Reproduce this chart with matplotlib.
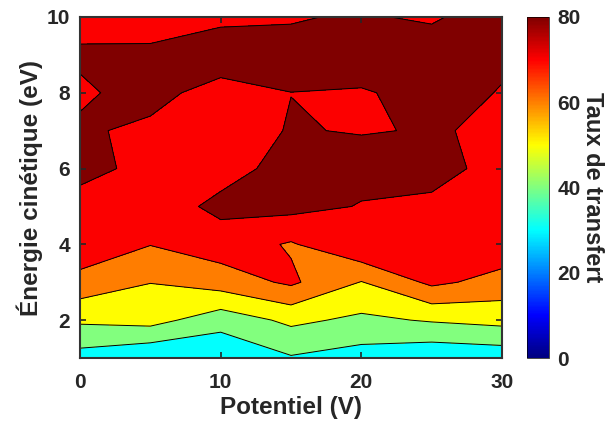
import numpy as np
import matplotlib
matplotlib.use("Agg")
import matplotlib.pyplot as plt
from matplotlib.colors import LinearSegmentedColormap, Normalize
from matplotlib.cm import ScalarMappable

potentiel = [0, 5, 10, 15, 20, 25, 30]
energie = [1, 2, 3, 4, 5, 6, 7, 8, 9, 10]

# taux de transfert, one row per energy (1 -> 10 eV), one column per potential
taux = [
    [35.9, 30.9, 31.0, 39.1, 35.6, 32.1, 33.5],
    [51.7, 53.6, 44.2, 52.2, 47.9, 50.9, 53.1],
    [66.5, 60.2, 64.7, 71.7, 59.6, 72.1, 66.4],
    [77.0, 70.3, 75.3, 69.0, 79.2, 76.0, 76.4],
    [78.5, 74.6, 82.5, 83.1, 79.5, 78.5, 77.0],
    [81.2, 78.9, 76.2, 83.6, 83.0, 82.5, 77.5],
    [82.0, 77.0, 77.0, 80.4, 79.6, 80.4, 79.2],
    [78.0, 84.8, 74.0, 79.95, 79.5, 81.8, 79.75],
    [82.0, 81.5, 89.0, 83.0, 83.3, 86.0, 80.8],
    [75.0, 76.5, 76.7, 79.3, 81.0, 78.6, 85.9],
]

niveaux = [30, 40, 50, 60, 70, 80, 100]
cbar_ticks = [0, 20, 40, 60, 80]

# matlab style jet
jet = LinearSegmentedColormap.from_list("mjet", [
    (0.0, (0, 0, 0.5)), (1/8, (0, 0, 1)), (3/8, (0, 1, 1)),
    (5/8, (1, 1, 0)), (7/8, (1, 0, 0)), (1.0, (0.5, 0, 0))])
norm = Normalize(0, 80)

plt.rcParams['font.family'] = ['Liberation Sans', 'DejaVu Sans']
plt.rcParams['font.weight'] = 'bold'
txt = '#262626'

fig = plt.figure(figsize=(6.13, 4.30), dpi=100)
ax = fig.add_axes([0.1305, 0.1674, 0.6885, 0.7931])

X, Y = np.meshgrid(potentiel, energie)
Z = np.array(taux)
fills = [jet(norm(min(l, 80))) for l in niveaux[:-1]]
ax.contourf(X, Y, Z, levels=niveaux, colors=fills)
ax.contour(X, Y, Z, levels=niveaux[:-1], colors='k', linewidths=0.7)

ax.set_xlim(0, 30)
ax.set_ylim(1, 10)
ax.set_xticks([0, 10, 20, 30])
ax.set_yticks([2, 4, 6, 8, 10])
ax.tick_params(direction='in', length=4, width=1.2, top=True, right=True,
               labelsize=15, colors=txt)
ax.tick_params(axis='x', pad=11)
ax.tick_params(axis='y', pad=7)
for s in ax.spines.values():
    s.set_linewidth(1.5)
    s.set_color('#333333')
ax.set_xlabel('Potentiel (V)', fontsize=17.5, fontweight='bold', color=txt, labelpad=3)
ax.set_ylabel('Énergie cinétique (eV)', fontsize=17.5, fontweight='bold', color=txt, labelpad=3)

cax = fig.add_axes([0.859, 0.1674, 0.0369, 0.7931])
cb = fig.colorbar(ScalarMappable(norm=norm, cmap=jet), cax=cax, ticks=cbar_ticks)
cb.outline.set_linewidth(0.5)
cb.ax.tick_params(length=0, labelsize=15, colors=txt, pad=6)
cb.set_label('Taux de transfert', fontsize=17, fontweight='bold', color=txt,
             rotation=270, labelpad=17)

fig.savefig('out.png', dpi=100)
